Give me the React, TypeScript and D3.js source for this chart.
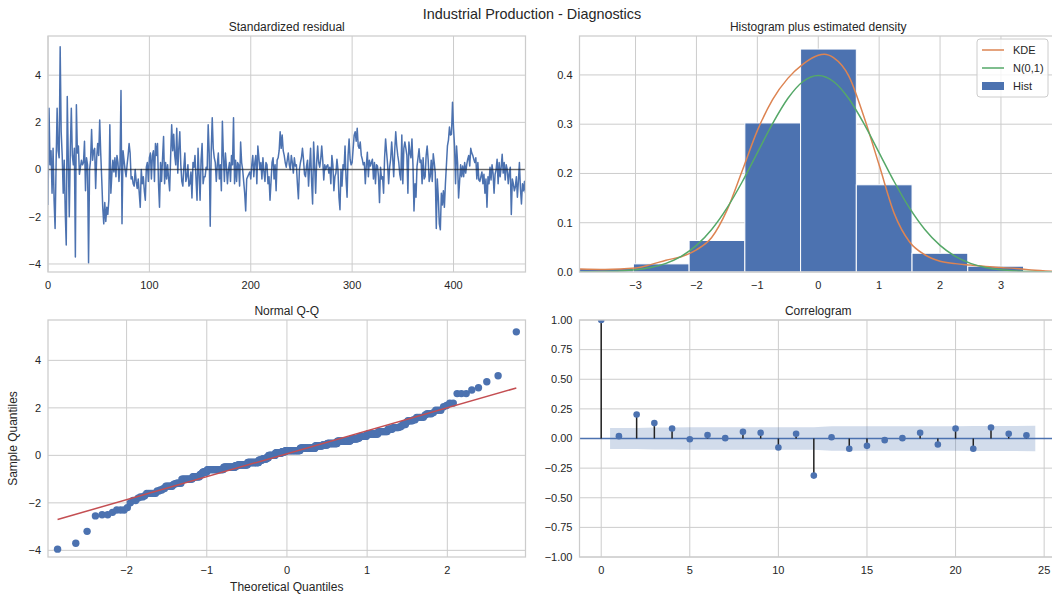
import React from 'react';
import * as d3 from 'd3';

// ---------------- DATA ----------------
const residuals: number[] = [
  -1.5, 2.6, 0.2, 0.8, -1.0, 0.9, -1.3, -2.5, 0.3, 2.6,
  0.8, 0.5, 5.2, 1.6, 0.6, -1.0, 0.4, -1.8, -3.2, 3.1,
  0.5, -2.0, 0.8, 2.6, 0.6, 0.2, 0.9, -3.7, 2.75, 0.7,
  1.0, -0.2, 0.1, 0.4, 0.2, 0.3, 1.2, -0.9, 0.5, 0.2,
  -3.95, 0.0, 0.4, 1.7, 0.4, 0.8, 0.9, -0.8, 0.5, 1.1,
  0.6, 2.1, 0.7, -0.4, -1.6, -2.3, -1.4, -2.2, -1.6, -1.9,
  -1.3, 1.9, -1.0, -0.2, 0.4, -0.1, 0.5, -0.3, 0.6, 0.3,
  -0.5, 0.2, 3.35, -2.3, 0.8, 0.4, 0.0, -0.3, 0.2, 0.6,
  1.1, 0.7, -0.4, -0.3, -0.6, -0.7, 0.0, -0.5, -0.8, -0.4,
  -1.0, -1.6, 0.0, -0.6, -0.3, -0.9, -1.3, 0.1, 0.3, -0.5,
  0.5, 0.7, -0.4, 0.6, 0.8, -0.5, 1.1, 0.6, 1.1, -0.6,
  -1.6, 0.3, -0.5, 0.5, 1.4, -0.6, 0.3, -0.4, 0.2, -0.4,
  -0.9, 0.6, 1.9, 0.8, 1.5, 0.6, 0.2, 1.75, -0.15, 0.9,
  1.6, 0.2, -0.5, -0.7, 0.1, 0.7, -0.5, -0.3, 0.2, -0.7,
  -0.6, -0.1, -1.2, 0.3, 0.1, 0.6, -0.4, -1.3, 0.9, -0.2,
  -1.3, 0.4, 1.1, -0.6, -0.3, -0.3, 0.1, 0.0, 1.9, 0.7,
  -2.4, 0.8, 2.2, 0.9, 0.5, 0.3, -0.5, 0.2, 0.7, -0.4,
  0.2, -0.9, 2.05, 0.6, -0.5, 0.7, 0.1, -0.6, 0.0, 0.3,
  -0.5, 0.6, 0.2, 2.2, -0.6, 0.4, -0.5, 0.3, 0.2, -0.7,
  1.17, 0.3, 0.0, -0.5, -1.0, -1.75, -0.4, -0.3, -0.2, -0.1,
  -0.4, 0.2, 0.6, -0.3, 0.3, 0.6, -0.6, 1.0, 0.5, 0.0,
  0.3, -0.4, 0.5, -0.1, -0.5, 0.3, 0.2, -0.6, -0.3, -1.3,
  -0.5, 0.3, 0.5, -0.4, 0.2, -0.9, 0.4, 0.5, 0.8, 1.6,
  0.9, 1.46, 0.8, 0.6, 0.3, 0.1, 0.4, 0.7, 0.2, 0.0,
  0.6, 0.3, -0.15, 0.5, 0.15, 0.2, -0.6, -1.24, 0.0, 0.3,
  0.5, 0.9, 0.44, -0.2, -0.3, 0.15, 0.4, -0.7, 0.1, 0.9,
  -0.5, -1.46, 1.17, 0.2, -1.0, 0.3, 1.0, 0.3, 0.1, 0.44,
  1.0, 0.4, -0.44, 0.2, 0.0, 0.15, 0.2, -0.15, 0.1, -0.6,
  0.6, 0.2, -0.9, -0.3, -0.15, 0.44, 0.0, -1.17, -1.7, 0.0,
  -0.7, 0.2, 0.0, 1.0, -0.4, -1.17, 0.6, 1.3, 0.44, 0.2,
  0.3, 0.9, 1.46, 1.6, 1.2, 1.75, 1.0, 0.9, 1.17, 0.6,
  0.44, 0.2, 0.3, -0.6, 0.2, 0.73, -0.3, 0.4, 0.15, 0.3,
  0.44, -0.4, 0.3, -0.6, 0.2, 0.15, -0.3, -1.4, 0.1, -0.4,
  -0.3, -1.0, 0.5, 1.3, 0.73, 0.2, -0.6, 0.1, 0.44, 1.17,
  0.5, -0.3, 0.8, 1.6, 1.0, 0.6, 0.3, -0.2, -0.44, 1.46,
  -0.6, 0.9, 1.17, 0.9, 0.6, -1.0, 1.17, 0.73, 0.5, 1.3,
  0.2, -1.75, -0.6, -1.17, 0.15, 0.5, 0.88, 0.3, 0.4, -0.6,
  0.5, -0.4, -0.3, 0.6, 1.0, 0.4, -0.5, -0.3, 0.4, -0.5,
  0.67, 0.3, -0.15, -2.5, -0.4, -1.17, -2.3, -2.55, -1.0, -1.5,
  -0.9, -1.6, -0.6, 0.2, 1.0, 1.25, 1.8, 1.46, 1.5, 2.85,
  1.75, 1.0, -0.6, 1.0, 0.3, -1.2, -0.5, 0.2, -0.3, 0.15,
  -0.3, 0.3, -0.15, 0.2, 0.44, 0.6, 0.15, 0.9, 0.7, 0.6,
  0.44, 0.3, 0.5, -0.4, 0.3, -0.44, -0.5, -0.3, -0.1, -0.6,
  -0.2, -1.0, -0.4, -1.6, -0.3, -0.6, 0.1, -0.44, 0.2, -0.15,
  -1.0, -0.2, 0.0, 0.44, -0.6, 0.3, -0.3, 0.1, 0.65, -0.15,
  0.3, -0.44, 0.2, 0.0, -0.6, -0.15, 0.1, -1.9, -0.4, -0.6,
  -0.9, -0.73, -0.3, -1.17, -0.5, 0.3, -0.8, -1.46, -0.6, -0.9,
  -0.5, -1.0,
];

const histEdges = [-3.95, -3.035, -2.12, -1.205, -0.29, 0.625, 1.54, 2.455, 3.37, 4.285, 5.2];
const histDensity = [0.007, 0.0165, 0.064, 0.3025, 0.4525, 0.177, 0.038, 0.0118, 0, 0.0023];

const kdeX = [-3.92, -3.5, -3.0, -2.75, -2.5, -2.25, -2.0, -1.75, -1.5, -1.25, -1.0, -0.75, -0.5, -0.25, 0, 0.1, 0.25, 0.5, 0.75, 1.0, 1.25, 1.5, 1.75, 2.0, 2.25, 2.5, 2.75, 3.0, 3.25, 3.5, 3.92];
const kdeY = [0.006, 0.005, 0.008, 0.015, 0.024, 0.031, 0.045, 0.07, 0.125, 0.205, 0.287, 0.35, 0.393, 0.422, 0.44, 0.442, 0.435, 0.398, 0.315, 0.217, 0.118, 0.061, 0.035, 0.022, 0.017, 0.014, 0.011, 0.009, 0.007, 0.004, 0.001];

const normX = [-3.92, -3.75, -3.5, -3.25, -3.0, -2.75, -2.5, -2.25, -2.0, -1.75, -1.5, -1.25, -1.0, -0.75, -0.5, -0.25, 0, 0.25, 0.5, 0.75, 1.0, 1.25, 1.5, 1.75, 2.0, 2.25, 2.5, 2.75, 3.0, 3.25, 3.5, 3.75, 3.92];
const normY = [0.0002, 0.00035, 0.00087, 0.00203, 0.00443, 0.00909, 0.01753, 0.03174, 0.05399, 0.08628, 0.12952, 0.18265, 0.24197, 0.30114, 0.35207, 0.38667, 0.39894, 0.38667, 0.35207, 0.30114, 0.24197, 0.18265, 0.12952, 0.08628, 0.05399, 0.03174, 0.01753, 0.00909, 0.00443, 0.00203, 0.00087, 0.00035, 0.0002];

const acfValues = [1.0, 0.02, 0.203, 0.13, 0.085, -0.006, 0.03, 0.003, 0.056, 0.048, -0.076, 0.04, -0.313, 0.011, -0.087, -0.062, -0.014, 0.003, 0.048, -0.05, 0.085, -0.087, 0.093, 0.04, 0.028];
const confHalf = [0.088, 0.088, 0.092, 0.093, 0.094, 0.094, 0.094, 0.094, 0.094, 0.094, 0.095, 0.095, 0.103, 0.103, 0.103, 0.104, 0.104, 0.104, 0.104, 0.104, 0.105, 0.105, 0.106, 0.107];

const residXTicks = [0, 100, 200, 300, 400];
const residYTicks = [-4, -2, 0, 2, 4];
const histXTicks = [-3, -2, -1, 0, 1, 2, 3];
const histYTicks = [0, 0.1, 0.2, 0.3, 0.4];
const qqXTicks = [-2, -1, 0, 1, 2];
const qqYTicks = [-4, -2, 0, 2, 4];
const acfXTicks = [0, 5, 10, 15, 20, 25];
const acfYTicks = [-1, -0.75, -0.5, -0.25, 0, 0.25, 0.5, 0.75, 1];

// ---------------- STYLE ----------------
const FONT = '"Liberation Sans", Arial, "DejaVu Sans", sans-serif';
const TEXT = '#262626';
const GRID = '#cccccc';
const BLUE = '#4C72B0';
const ORANGE = '#DD8452';
const GREEN = '#55A868';
const RED = '#C44E52';

const L = { x0: 48, x1: 525.5 };
const R = { x0: 579.5, x1: 1057 };
const T = { y0: 36, y1: 272 };
const B = { y0: 320, y1: 557 };

const minus = (s: string) => s.replace(/-/g, '\u2212');

function normPpf(p: number): number {
  const a = [-3.969683028665376e1, 2.209460984245205e2, -2.759285104469687e2, 1.38357751867269e2, -3.066479806614716e1, 2.506628277459239];
  const b = [-5.447609879822406e1, 1.615858368580409e2, -1.556989798598866e2, 6.680131188771972e1, -1.328068155288572e1];
  const c = [-7.784894002430293e-3, -3.223964580411365e-1, -2.400758277161838, -2.549732539343734, 4.374664141464968, 2.938163982698783];
  const d = [7.784695709041462e-3, 3.224671290700398e-1, 2.445134137142996, 3.754408661907416];
  const pl = 0.02425;
  if (p < pl) {
    const q = Math.sqrt(-2 * Math.log(p));
    return (((((c[0] * q + c[1]) * q + c[2]) * q + c[3]) * q + c[4]) * q + c[5]) / ((((d[0] * q + d[1]) * q + d[2]) * q + d[3]) * q + 1);
  }
  if (p <= 1 - pl) {
    const q = p - 0.5, r = q * q;
    return ((((((a[0] * r + a[1]) * r + a[2]) * r + a[3]) * r + a[4]) * r + a[5]) * q) / (((((b[0] * r + b[1]) * r + b[2]) * r + b[3]) * r + b[4]) * r + 1);
  }
  const q = Math.sqrt(-2 * Math.log(1 - p));
  return -(((((c[0] * q + c[1]) * q + c[2]) * q + c[3]) * q + c[4]) * q + c[5]) / ((((d[0] * q + d[1]) * q + d[2]) * q + d[3]) * q + 1);
}

type Sc = d3.ScaleLinear<number, number>;

function Frame(props: {
  id: string; x: Sc; y: Sc; xTicks: number[]; yTicks: number[];
  xFmt: (v: number) => string; yFmt: (v: number) => string; title: string;
  children?: React.ReactNode;
}) {
  const { id, x, y, xTicks, yTicks, xFmt, yFmt, title, children } = props;
  const [x0, x1] = x.range();
  const [y1, y0] = y.range();
  return (
    <g>
      <clipPath id={id}>
        <rect x={x0} y={y0} width={x1 - x0} height={y1 - y0} />
      </clipPath>
      <rect x={x0} y={y0} width={x1 - x0} height={y1 - y0} fill="#fff" />
      {xTicks.map((t) => (
        <line key={'gx' + t} x1={x(t)} x2={x(t)} y1={y0} y2={y1} stroke={GRID} strokeWidth={1} />
      ))}
      {yTicks.map((t) => (
        <line key={'gy' + t} x1={x0} x2={x1} y1={y(t)} y2={y(t)} stroke={GRID} strokeWidth={1} />
      ))}
      <g clipPath={`url(#${id})`}>{children}</g>
      <rect x={x0} y={y0} width={x1 - x0} height={y1 - y0} fill="none" stroke={GRID} strokeWidth={1.25} />
      {xTicks.map((t) => (
        <text key={'tx' + t} x={x(t)} y={y1 + 17} textAnchor="middle" fontSize={11} fill={TEXT}>{minus(xFmt(t))}</text>
      ))}
      {yTicks.map((t) => (
        <text key={'ty' + t} x={x0 - 7} y={y(t)} dy="0.35em" textAnchor="end" fontSize={11} fill={TEXT}>{minus(yFmt(t))}</text>
      ))}
      <text x={(x0 + x1) / 2} y={y0 - 5} textAnchor="middle" fontSize={12} fill={TEXT}>{title}</text>
    </g>
  );
}

export default function App() {
  const n = residuals.length;
  // Standardized residual
  const rx = d3.scaleLinear().domain([0, n - 1]).range([L.x0, L.x1]);
  const ry = d3.scaleLinear().domain([-4.34, 5.66]).range([T.y1, T.y0]);
  const residLine = d3.line<number>().x((_, i) => rx(i)).y((v) => ry(v))(residuals) || '';

  // Histogram
  const hx = d3.scaleLinear().domain([-3.92, 3.92]).range([R.x0, R.x1]);
  const hy = d3.scaleLinear().domain([0, 0.479]).range([T.y1, T.y0]);
  const kdeLine = d3.line<number>().x((_, i) => hx(kdeX[i])).y((v) => hy(v)).curve(d3.curveMonotoneX)(kdeY) || '';
  const normLine = d3.line<number>().x((_, i) => hx(normX[i])).y((v) => hy(v)).curve(d3.curveMonotoneX)(normY) || '';

  // Q-Q
  const sorted = residuals.slice().sort((a, b) => a - b);
  const theo = sorted.map((_, i) => normPpf((i + 1) / (n + 1)));
  const mean = d3.mean(residuals) as number;
  const sd = Math.sqrt(d3.mean(residuals.map((v) => (v - mean) ** 2)) as number);
  const qx = d3.scaleLinear().domain([-2.98, 2.975]).range([L.x0, L.x1]);
  const qy = d3.scaleLinear().domain([-4.28, 5.7]).range([B.y1, B.y0]);
  const tMin = theo[0], tMax = theo[n - 1];

  // Correlogram
  const cx = d3.scaleLinear().domain([-1.225, 25.725]).range([R.x0, R.x1]);
  const cy = d3.scaleLinear().domain([-1, 1]).range([B.y1, B.y0]);
  const bandX = confHalf.map((_, i) => (i === 0 ? 0.5 : i === confHalf.length - 1 ? i + 1.5 : i + 1));
  const band = d3.area<number>().x((_, i) => cx(bandX[i])).y0((v) => cy(-v)).y1((v) => cy(v))(confHalf) || '';

  const legendRight = R.x1 - 9;
  const legendLeft = legendRight - 71;

  return (
    <svg width={1052} height={596} style={{ position: 'absolute', left: 0, top: 0, fontFamily: FONT }}>
      <rect width={1052} height={596} fill="#fff" />
      <text x={532} y={18.5} textAnchor="middle" fontSize={14.4} fill={TEXT}>Industrial Production - Diagnostics</text>

      {/* Standardized residual */}
      <Frame id="c1" x={rx} y={ry} xTicks={residXTicks} yTicks={residYTicks} xFmt={(v) => String(v)} yFmt={(v) => String(v)} title="Standardized residual">
        <path d={residLine} fill="none" stroke={BLUE} strokeWidth={1.5} strokeLinejoin="round" />
        <line x1={rx(0)} x2={rx(n - 1)} y1={ry(0)} y2={ry(0)} stroke="#000" strokeOpacity={0.5} strokeWidth={1.5} />
      </Frame>

      {/* Histogram */}
      <Frame id="c2" x={hx} y={hy} xTicks={histXTicks} yTicks={histYTicks} xFmt={(v) => String(v)} yFmt={(v) => v.toFixed(1)} title="Histogram plus estimated density">
        {histDensity.map((d, i) => (
          <rect key={i} x={hx(histEdges[i])} y={hy(d)} width={hx(histEdges[i + 1]) - hx(histEdges[i])} height={hy(0) - hy(d)} fill={BLUE} stroke="#fff" strokeWidth={1} />
        ))}
        <path d={kdeLine} fill="none" stroke={ORANGE} strokeWidth={1.5} />
        <path d={normLine} fill="none" stroke={GREEN} strokeWidth={1.5} />
      </Frame>
      <g>
        <rect x={legendLeft} y={T.y0 + 3} width={legendRight - legendLeft} height={58} rx={3} fill="#fff" fillOpacity={0.8} stroke={GRID} strokeWidth={1} />
        <line x1={legendLeft + 5} x2={legendLeft + 27} y1={T.y0 + 14} y2={T.y0 + 14} stroke={ORANGE} strokeWidth={1.5} />
        <text x={legendLeft + 36} y={T.y0 + 14} dy="0.35em" fontSize={11} fill={TEXT}>KDE</text>
        <line x1={legendLeft + 5} x2={legendLeft + 27} y1={T.y0 + 32} y2={T.y0 + 32} stroke={GREEN} strokeWidth={1.5} />
        <text x={legendLeft + 36} y={T.y0 + 32} dy="0.35em" fontSize={11} fill={TEXT}>N(0,1)</text>
        <rect x={legendLeft + 5} y={T.y0 + 46} width={22} height={8} fill={BLUE} />
        <text x={legendLeft + 36} y={T.y0 + 50} dy="0.35em" fontSize={11} fill={TEXT}>Hist</text>
      </g>

      {/* Normal Q-Q */}
      <Frame id="c3" x={qx} y={qy} xTicks={qqXTicks} yTicks={qqYTicks} xFmt={(v) => String(v)} yFmt={(v) => String(v)} title="Normal Q-Q">
        {sorted.map((v, i) => (
          <circle key={i} cx={qx(theo[i])} cy={qy(v)} r={3.7} fill={BLUE} />
        ))}
        <line x1={qx(tMin)} x2={qx(tMax)} y1={qy(mean + sd * tMin)} y2={qy(mean + sd * tMax)} stroke={RED} strokeWidth={1.5} />
      </Frame>
      <text x={(L.x0 + L.x1) / 2} y={591} textAnchor="middle" fontSize={12} fill={TEXT}>Theoretical Quantiles</text>
      <text transform={`translate(17,${(B.y0 + B.y1) / 2}) rotate(-90)`} textAnchor="middle" fontSize={12} fill={TEXT}>Sample Quantiles</text>

      {/* Correlogram */}
      <Frame id="c4" x={cx} y={cy} xTicks={acfXTicks} yTicks={acfYTicks} xFmt={(v) => String(v)} yFmt={(v) => v.toFixed(2)} title="Correlogram">
        <path d={band} fill={BLUE} fillOpacity={0.25} />
        <line x1={R.x0} x2={R.x1} y1={cy(0)} y2={cy(0)} stroke={BLUE} strokeWidth={1.5} />
        {acfValues.map((v, i) => (
          <line key={'s' + i} x1={cx(i)} x2={cx(i)} y1={cy(0)} y2={cy(v)} stroke="#222" strokeWidth={1.5} />
        ))}
        {acfValues.map((v, i) => (
          <circle key={'m' + i} cx={cx(i)} cy={cy(v)} r={3.3} fill={BLUE} />
        ))}
      </Frame>
    </svg>
  );
}
